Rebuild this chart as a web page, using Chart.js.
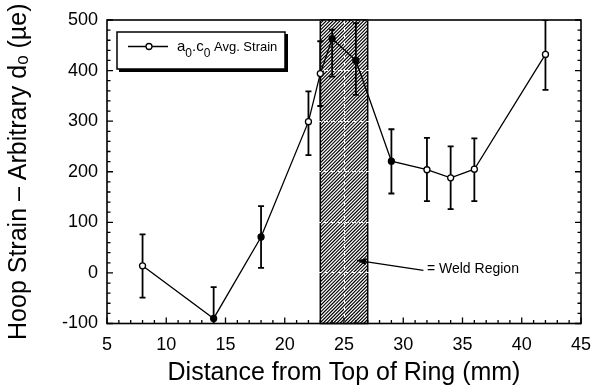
<!DOCTYPE html>
<html>
<head>
<meta charset="utf-8">
<script src="https://cdn.jsdelivr.net/npm/chart.js@4.4.0/dist/chart.umd.min.js"></script>
<style>
  html, body { margin: 0; padding: 0; background: #fff; }
  #wrap { width: 594px; height: 386px; }
</style>
</head>
<body>
<div id="wrap"><canvas id="c" width="594" height="386"></canvas></div>
<script>
// ---- data ----
const distances   = [8, 14, 18, 22, 23, 24, 26, 29, 32, 34, 36, 42];
const hoopStrain  = [14, -90, 71, 299, 394, 463, 420, 221, 204, 188, 205, 432];
const errUpper    = [76, -28, 132, 359, 458, 481, 494, 284, 267, 250, 266, 500];
const errLower    = [-49, -152, 10, 233, 330, 388, 352, 157, 142, 126, 142, 362];
const filledPoint = [false, true, true, false, false, true, true, true, false, false, false, false];
const xTickLabels = [5, 10, 15, 20, 25, 30, 35, 40, 45];
const yTickLabels = [-100, 0, 100, 200, 300, 400, 500];
const weldRegion  = [23, 27];
const weldArrowTail = [31.7, 5];
const weldArrowHead = [26.1, 25];
const weldLabelPos  = [32.0, 8];
const weldLabel = '= Weld Region';
const xTitle = 'Distance from Top of Ring (mm)';
const yTitle = 'Hoop Strain \u2013 Arbitrary d\u2092 (\u00b5e)';

const FONT = '"Liberation Sans", Arial, Helvetica, sans-serif';

const bgAndHatch = {
  id: 'bgAndHatch',
  beforeDraw(chart) {
    const ctx = chart.ctx, ca = chart.chartArea, xs = chart.scales.x;
    ctx.save();
    ctx.fillStyle = '#fff';
    ctx.fillRect(0, 0, chart.width, chart.height);
    const x0 = xs.getPixelForValue(weldRegion[0]);
    const x1 = xs.getPixelForValue(weldRegion[1]);
    ctx.beginPath();
    ctx.rect(x0, ca.top, x1 - x0, ca.bottom - ca.top);
    ctx.clip();
    ctx.strokeStyle = '#000';
    ctx.lineWidth = 1.1;
    const h = ca.bottom - ca.top;
    ctx.beginPath();
    for (let k = -h; k < (x1 - x0) + h; k += 3.4) {
      ctx.moveTo(x0 + k, ca.bottom);
      ctx.lineTo(x0 + k + h, ca.top);
    }
    ctx.stroke();
    ctx.restore();
    ctx.save();
    ctx.strokeStyle = '#000';
    ctx.lineWidth = 1.5;
    ctx.strokeRect(x0, ca.top, x1 - x0, ca.bottom - ca.top);
    ctx.restore();
  }
};

const errorBars = {
  id: 'errorBars',
  beforeDatasetsDraw(chart) {
    const ctx = chart.ctx, ca = chart.chartArea, xs = chart.scales.x, ys = chart.scales.y;
    ctx.save();
    ctx.beginPath();
    ctx.rect(ca.left, ca.top, ca.right - ca.left, ca.bottom - ca.top);
    ctx.clip();
    ctx.strokeStyle = '#000';
    ctx.lineWidth = 1.8;
    for (let i = 0; i < distances.length; i++) {
      const px = xs.getPixelForValue(distances[i]);
      const pt = ys.getPixelForValue(errUpper[i]);
      const pb = ys.getPixelForValue(errLower[i]);
      ctx.beginPath();
      ctx.moveTo(px, pt); ctx.lineTo(px, pb);
      ctx.moveTo(px - 3, pt); ctx.lineTo(px + 3, pt);
      ctx.moveTo(px - 3, pb); ctx.lineTo(px + 3, pb);
      ctx.stroke();
    }
    ctx.restore();
  }
};

const frameAndExtras = {
  id: 'frameAndExtras',
  afterDraw(chart) {
    const ctx = chart.ctx, ca = chart.chartArea, xs = chart.scales.x, ys = chart.scales.y;
    ctx.save();
    // frame
    ctx.strokeStyle = '#000';
    ctx.lineWidth = 1.6;
    ctx.strokeRect(ca.left, ca.top, ca.right - ca.left, ca.bottom - ca.top);
    // inward ticks
    ctx.lineWidth = 1.3;
    ctx.beginPath();
    for (let v = xTickLabels[0]; v <= xTickLabels[xTickLabels.length - 1]; v += 1) {
      const p = xs.getPixelForValue(v);
      const len = (v % 5 === 0) ? 6 : 3.5;
      ctx.moveTo(p, ca.bottom); ctx.lineTo(p, ca.bottom - len);
    }
    for (let v = yTickLabels[0]; v <= yTickLabels[yTickLabels.length - 1]; v += 20) {
      const p = ys.getPixelForValue(v);
      const len = (v % 100 === 0) ? 6 : 3.5;
      ctx.moveTo(ca.left, p); ctx.lineTo(ca.left + len, p);
      ctx.moveTo(ca.right, p); ctx.lineTo(ca.right - len, p);
    }
    ctx.stroke();

    // legend box
    const bx = ca.left + 10, by = ca.top + 12, bw = 168, bh = 37;
    ctx.fillStyle = '#fff';
    ctx.fillRect(bx, by, bw, bh);
    ctx.fillStyle = '#000';
    ctx.fillRect(bx + 2, by + bh, bw, 3);
    ctx.fillRect(bx + bw, by + 2, 3, bh + 1);
    ctx.lineWidth = 1.5;
    ctx.strokeRect(bx, by, bw, bh);
    const ly = by + 14.5;
    ctx.lineWidth = 1.3;
    ctx.beginPath();
    ctx.moveTo(bx + 11, ly); ctx.lineTo(bx + 51, ly);
    ctx.stroke();
    ctx.beginPath();
    ctx.arc(bx + 32, ly, 3, 0, Math.PI * 2);
    ctx.fillStyle = '#fff';
    ctx.fill();
    ctx.stroke();
    ctx.fillStyle = '#000';
    ctx.textBaseline = 'alphabetic';
    ctx.textAlign = 'left';
    let tx = bx + 60;
    const base = by + 19;
    const parts = [
      ['a', 15, 0], ['0', 12, 5.5], ['.', 15, 0], ['c', 15, 0], ['0', 12, 5.5], [' Avg. Strain', 13, 0]
    ];
    for (const [t, sz, dy] of parts) {
      ctx.font = sz + 'px ' + FONT;
      ctx.fillText(t, tx, base + dy);
      tx += ctx.measureText(t).width;
    }

    // weld region arrow + label
    const ax0 = xs.getPixelForValue(weldArrowTail[0]), ay0 = ys.getPixelForValue(weldArrowTail[1]);
    const ax1 = xs.getPixelForValue(weldArrowHead[0]), ay1 = ys.getPixelForValue(weldArrowHead[1]);
    ctx.strokeStyle = '#000';
    ctx.lineWidth = 1.3;
    ctx.beginPath();
    ctx.moveTo(ax0, ay0); ctx.lineTo(ax1, ay1);
    ctx.stroke();
    const ang = Math.atan2(ay1 - ay0, ax1 - ax0);
    const hl = 9, hw = 3.5;
    ctx.beginPath();
    ctx.moveTo(ax1, ay1);
    ctx.lineTo(ax1 - hl * Math.cos(ang) + hw * Math.sin(ang), ay1 - hl * Math.sin(ang) - hw * Math.cos(ang));
    ctx.lineTo(ax1 - hl * Math.cos(ang) - hw * Math.sin(ang), ay1 - hl * Math.sin(ang) + hw * Math.cos(ang));
    ctx.closePath();
    ctx.fillStyle = '#000';
    ctx.fill();
    ctx.font = '14px ' + FONT;
    ctx.textBaseline = 'middle';
    ctx.fillText(weldLabel, xs.getPixelForValue(weldLabelPos[0]), ys.getPixelForValue(weldLabelPos[1]));
    ctx.restore();
  }
};

new Chart(document.getElementById('c'), {
  type: 'scatter',
  data: {
    datasets: [{
      label: 'a0.c0 Avg. Strain',
      data: distances.map((d, i) => ({ x: d, y: hoopStrain[i] })),
      showLine: true,
      borderColor: '#000',
      borderWidth: 1.3,
      pointRadius: 3,
      pointBorderWidth: 1.3,
      pointBorderColor: '#000',
      pointBackgroundColor: filledPoint.map(f => f ? '#000' : '#fff'),
      tension: 0
    }]
  },
  options: {
    responsive: false,
    animation: false,
    devicePixelRatio: 1,
    layout: { padding: { top: 20, right: 13, left: 0, bottom: 0 } },
    plugins: { legend: { display: false }, tooltip: { enabled: false } },
    scales: {
      x: {
        type: 'linear',
        min: xTickLabels[0],
        max: xTickLabels[xTickLabels.length - 1],
        afterBuildTicks: s => { s.ticks = xTickLabels.map(v => ({ value: v })); },
        afterFit: s => { s.height = 62.5; s.paddingLeft = 0; s.paddingRight = 0; },
        grid: { color: '#fff', lineWidth: 1, drawTicks: false },
        border: { display: false, dash: [4, 3] },
        ticks: { color: '#000', font: { family: FONT, size: 18 }, padding: 11, maxRotation: 0 },
        title: { display: true, text: xTitle, color: '#000', font: { family: FONT, size: 25, lineHeight: 1 }, padding: 0 }
      },
      y: {
        type: 'linear',
        min: yTickLabels[0],
        max: yTickLabels[yTickLabels.length - 1],
        afterBuildTicks: s => { s.ticks = yTickLabels.map(v => ({ value: v })); },
        afterFit: s => { s.width = 107; s.paddingTop = 0; s.paddingBottom = 0; },
        grid: { color: '#fff', lineWidth: 1, drawTicks: false },
        border: { display: false, dash: [4, 3] },
        ticks: { color: '#000', font: { family: FONT, size: 18 }, padding: 9 },
        title: { display: true, text: yTitle, color: '#000', font: { family: FONT, size: 25, lineHeight: 1 }, padding: { top: 7, bottom: 0 } }
      }
    }
  },
  plugins: [bgAndHatch, errorBars, frameAndExtras]
});
</script>
</body>
</html>
